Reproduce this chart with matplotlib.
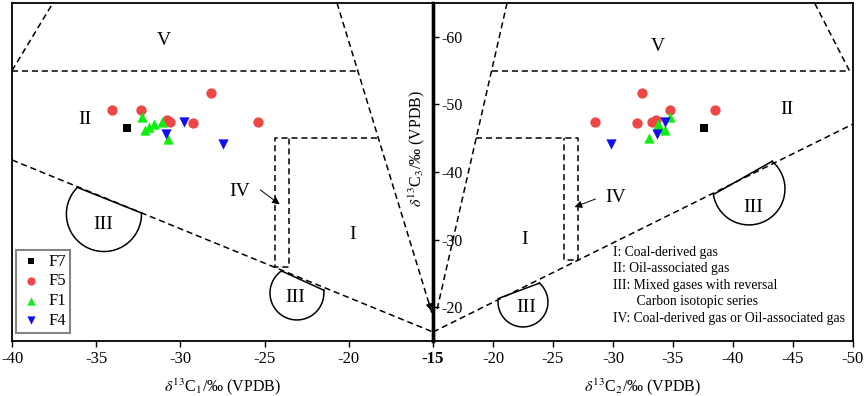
import numpy as np
import matplotlib
matplotlib.use('Agg')
import matplotlib.pyplot as plt

plt.rcParams['font.family'] = ['Liberation Serif', 'DejaVu Serif']
plt.rcParams['mathtext.fontset'] = 'stix'

# ── data: (x, δ13C3) per group ────────────────────────────────────────────────
F7_C1 = [-33.19];                F7_C3L = [-46.46]
F5_C1 = [-34.08, -32.36, -28.18, -30.81, -30.62, -29.27, -25.37]
F5_C3L = [-49.17, -49.17, -51.64, -47.69, -47.44, -47.20, -47.44]
F1_C1 = [-32.30, -32.10, -31.85, -31.57, -31.11, -30.75]
F1_C3L = [-48.18, -46.21, -46.70, -47.06, -47.44, -44.84]
F4_C1 = [-29.79, -30.87, -27.49]; F4_C3L = [-47.35, -45.58, -44.10]

F7_C2 = [-37.61];                F7_C3R = [-46.46]
F5_C2 = [-28.50, -32.44, -32.03, -33.23, -33.58, -34.75, -38.50]
F5_C3R = [-47.44, -51.64, -47.20, -47.44, -47.69, -49.17, -49.17]
F1_C2 = [-34.75, -33.78, -33.92, -34.33, -33.03]
F1_C3R = [-48.18, -47.06, -46.55, -46.21, -44.99]
F4_C2 = [-34.33, -33.64, -29.81]; F4_C3R = [-47.35, -45.58, -44.10]

# ── classification template boundaries (data coords) ──────────────────────────
L_DASHED = [
    [(-40, -55), (-37.57, -65)],
    [(-40, -55), (-19.47, -55)],
    [(-40, -41.78), (-15, -16.33)],
    [(-18.3, -45), (-24.38, -45), (-24.38, -26.0), (-23.55, -26.0), (-23.55, -45)],
]
L_STEEP = [(-20.7, -65), (-15.06, -19.1)]
R_DASHED = [
    [(-21.17, -65), (-15.33, -19.6)],
    [(-19.9, -55), (-49.7, -55)],
    [(-49.7, -55), (-46.8, -65)],
    [(-15, -16.33), (-50, -47.1)],
    [(-18.6, -45), (-27.08, -45), (-27.08, -27.0), (-25.92, -27.0), (-25.92, -45)],
]
# III regions: centre, x-radius, arc angles (display, deg)
L_III = [((-34.54, -33.79), 2.23, 1.5, -225), ((-23.08, -22.1), 1.60, 6, -235)]
R_III = [((-41.33, -37.5), 3.0, 50, -171), ((-22.5, -20.77), 2.08, 49, -188)]

L_LABELS = [('V', -31.0, -59.5), ('II', -35.7, -47.7), ('III', -34.6, -32.2),
            ('III', -23.2, -21.4), ('I', -19.75, -30.7), ('IV', -26.5, -37.1)]
R_LABELS = [('V', -33.75, -58.5), ('II', -44.5, -49.2), ('III', -41.7, -34.8),
            ('III', -22.8, -19.9), ('I', -22.6, -30.0), ('IV', -30.2, -36.2)]

NOTES = ['I: Coal-derived gas', 'II: Oil-associated gas',
         'III: Mixed gases with reversal', '       Carbon isotopic series',
         'IV: Coal-derived gas or Oil-associated gas']

COLORS = {'F7': 'black', 'F5': '#f04646', 'F1': '#10ee10', 'F4': '#1010ee'}
MARKERS = {'F7': 's', 'F5': 'o', 'F1': '^', 'F4': 'v'}
SIZES = {'F7': 30, 'F5': 55, 'F1': 55, 'F4': 55}

fig = plt.figure(figsize=(8.65, 3.96), dpi=100)
ax1 = fig.add_axes([12/865, 55/396, 421/865, 338/396])
ax2 = fig.add_axes([433/865, 55/396, 420/865, 338/396])
ax1.set_zorder(3); ax1.patch.set_alpha(0)

ax1.set_xlim(-40, -15); ax1.set_ylim(-15, -65)
ax2.set_xlim(-15, -50); ax2.set_ylim(-15, -65)

DASH = (0, (4, 2.5))
for seg in L_DASHED:
    xs, ys = zip(*seg)
    ax1.plot(xs, ys, color='k', lw=1.1, ls=DASH)
xs, ys = zip(*L_STEEP)
ax1.plot(xs, ys, color='k', lw=1.1, ls=DASH)
ax1.annotate('', xy=L_STEEP[1], xytext=(L_STEEP[1][0] - 0.25, L_STEEP[1][1] - 2.0),
             arrowprops=dict(arrowstyle='-|>', color='k', lw=1.0, mutation_scale=9))
for seg in R_DASHED:
    xs, ys = zip(*seg)
    ax2.plot(xs, ys, color='k', lw=1.1, ls=DASH)


def draw_iii(ax, items):
    for (cx, cy), rx, a1, a2 in items:
        cd = ax.transData.transform((cx, cy))
        r = abs(ax.transData.transform((cx + rx, cy))[0] - cd[0])
        t = np.radians(np.linspace(a1, a2, 80))
        pts = np.column_stack([cd[0] + r*np.cos(t), cd[1] + r*np.sin(t)])
        pts = np.vstack([pts, pts[:1]])
        d = ax.transData.inverted().transform(pts)
        ax.plot(d[:, 0], d[:, 1], color='k', lw=1.1)


draw_iii(ax1, L_III)
draw_iii(ax2, R_III)

for ax, labels in ((ax1, L_LABELS), (ax2, R_LABELS)):
    for s, x, y in labels:
        ax.text(x, y, s, fontsize=14, ha='center', va='center')

# IV arrows
ax1.annotate('', xy=(-23.97, -34.97), xytext=(-25.39, -37.6),
             arrowprops=dict(arrowstyle='-|>', color='k', lw=0.7, mutation_scale=11))
ax2.annotate('', xy=(-26.58, -34.67), xytext=(-28.75, -36.15),
             arrowprops=dict(arrowstyle='-|>', color='k', lw=0.7, mutation_scale=11))

# ── data points ───────────────────────────────────────────────────────────────
left = {'F7': (F7_C1, F7_C3L), 'F5': (F5_C1, F5_C3L), 'F1': (F1_C1, F1_C3L), 'F4': (F4_C1, F4_C3L)}
right = {'F7': (F7_C2, F7_C3R), 'F5': (F5_C2, F5_C3R), 'F1': (F1_C2, F1_C3R), 'F4': (F4_C2, F4_C3R)}
for k in ('F7', 'F5', 'F1', 'F4'):
    ax1.scatter(*left[k], s=SIZES[k], c=COLORS[k], marker=MARKERS[k], linewidths=0, label=k, zorder=5)
    ax2.scatter(*right[k], s=SIZES[k], c=COLORS[k], marker=MARKERS[k], linewidths=0, zorder=5)

leg = ax1.legend(loc='lower left', bbox_to_anchor=(0.0095, 0.024), borderaxespad=0,
                 fontsize=12, frameon=True, fancybox=False, edgecolor='#666666',
                 handletextpad=0.4, labelspacing=0.22, borderpad=0.25,
                 handlelength=1.3, markerscale=0.8)
leg.get_frame().set_linewidth(1.5)

ax2.text(-30.0, -29.1, '\n'.join(NOTES), fontsize=9.8, ha='left', va='top',
         linespacing=1.36)

# ── axes ──────────────────────────────────────────────────────────────────────
for ax in (ax1, ax2):
    for sp in ax.spines.values():
        sp.set_linewidth(1.3)
ax1.spines['right'].set_linewidth(2.4)
ax2.spines['left'].set_linewidth(2.4)

ax1.set_xticks([-40, -35, -30, -25, -20], ['-40', '-35', '-30', '-25', '-20'])
ax2.set_xticks([-15, -20, -25, -30, -35, -40, -45, -50],
               ['-15', '-20', '-25', '-30', '-35', '-40', '-45', '-50'])
ax2.get_xticklabels()[0].set_fontweight('bold')
ax1.tick_params(axis='x', direction='out', length=4, width=1, labelsize=12, pad=3)
ax2.tick_params(axis='x', direction='out', length=4, width=1, labelsize=12, pad=3)

ax1.yaxis.tick_right()
ax1.set_yticks([-60, -50, -40, -30, -20], ['-60', '-50', '-40', '-30', '-20'])
ax1.tick_params(axis='y', direction='out', length=4, width=1, labelsize=11.5, pad=2)
ax2.set_yticks([])

ax1.set_xlabel(r'$\delta^{13}$C$_1$/‰ (VPDB)', fontsize=11.5, labelpad=7)
ax2.set_xlabel(r'$\delta^{13}$C$_2$/‰ (VPDB)', fontsize=11.5, labelpad=7)
ax1.text(0.962, 0.571, r'$\delta^{13}$C$_3$/‰ (VPDB)', transform=ax1.transAxes,
         rotation=90, fontsize=11.5, ha='center', va='center')

fig.savefig('out.png', dpi=100)
